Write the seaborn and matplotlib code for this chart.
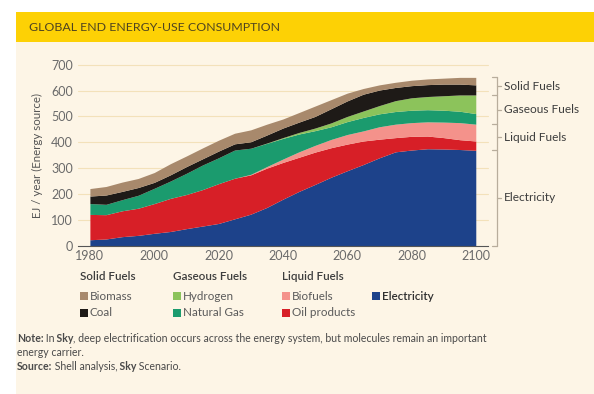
import matplotlib
matplotlib.use("Agg")
import matplotlib.pyplot as plt
from matplotlib.patches import Rectangle
import pandas as pd
import seaborn as sns

# ---- data (EJ / year) ----
years = list(range(1980, 2101, 5))
electricity = [23, 26, 35, 40, 48, 55, 66, 76, 86, 104, 122, 148, 180,
               210, 237, 265, 290, 314, 340, 363, 370, 375, 374, 372, 369]
oil_products = [98, 94, 100, 105, 115, 128, 132, 141, 154, 157, 152, 152, 142,
                132, 125, 114, 103, 91, 72, 55, 53, 49, 44, 38, 36]
biofuels = [0, 0, 0, 0, 0, 0, 0, 0, 0, 0, 2, 6, 13,
            21, 26, 32, 37, 39, 48, 52, 53, 55, 60, 66, 65]
natural_gas = [42, 40, 43, 50, 59, 67, 82, 95, 100, 109, 101, 90, 80,
               69, 57, 49, 50, 52, 50, 49, 48, 47, 46, 44, 41]
hydrogen = [0, 0, 0, 0, 0, 0, 0, 0, 0, 0, 0, 1, 3,
            6, 10, 15, 20, 25, 32, 42, 48, 51, 56, 63, 72]
coal = [29, 36, 32, 30, 23, 24, 26, 24, 26, 24, 25, 31, 37,
        40, 45, 55, 60, 65, 60, 51, 47, 46, 45, 42, 39]
biomass = [29, 33, 36, 35, 38, 43, 41, 42, 42, 41, 46, 42, 35,
           37, 40, 35, 30, 22, 20, 20, 21, 22, 23, 26, 29]

series = ["Electricity", "Oil products", "Biofuels", "Natural Gas",
          "Hydrogen", "Coal", "Biomass"]
colors = ["#1d428a", "#d71f27", "#f4928b", "#1b9b6e",
          "#8cc35b", "#1e1a17", "#a8896c"]
groups = ["Electricity", "Liquid Fuels", "Gaseous Fuels", "Solid Fuels"]
group_sizes = [1, 2, 2, 2]

df = pd.DataFrame({
    "Electricity": electricity, "Oil products": oil_products,
    "Biofuels": biofuels, "Natural Gas": natural_gas,
    "Hydrogen": hydrogen, "Coal": coal, "Biomass": biomass,
}, index=years)

sns.set_theme(style="white")
plt.rcParams["font.family"] = ["Lato", "DejaVu Sans"]

W, H = 594, 394
fig = plt.figure(figsize=(W / 100, H / 100), dpi=100, facecolor="white")

def fx(px):
    return px / W

def fy(py):
    return 1 - py / H

# panel background + title banner (behind the axes)
fig.patches.append(Rectangle((fx(16), 0), 1, fy(41.5), transform=fig.transFigure,
                             facecolor="#fdf5e6", edgecolor="none", zorder=-10))
fig.patches.append(Rectangle((fx(16), fy(41.5)), 1, (41.5 - 12.5) / H,
                             transform=fig.transFigure, facecolor="#fdd105",
                             edgecolor="none", zorder=-10))
fig.text(fx(29), fy(27.5), "GLOBAL END ENERGY-USE CONSUMPTION", fontsize=8.9,
         color="#4f4420", va="center", ha="left")

ax = fig.add_axes([fx(78), fy(245.7), (488 - 78) / W, (245.7 - 64.7) / H])
ax.set_facecolor("none")
ax.stackplot(df.index, df[series].T.values, colors=colors, lw=0, zorder=2)
ax.set_xlim(1976.3, 2103.8)
ax.set_ylim(0, 700)
ax.set_xticks(range(1980, 2101, 20))
ax.set_yticks(range(0, 701, 100))
for v in range(100, 701, 100):
    ax.axhline(v, color="#f3e1ba", lw=0.8, zorder=1, clip_on=False)
for s in ["left", "right", "top"]:
    ax.spines[s].set_visible(False)
ax.spines["bottom"].set_color("#555555")
ax.spines["bottom"].set_linewidth(0.8)
ax.tick_params(axis="both", length=0, labelsize=9, labelcolor="#6a6a6a")
ax.tick_params(axis="x", pad=3)
ax.tick_params(axis="y", pad=3.5)
ax.set_ylabel("EJ / year (Energy source)", fontsize=8.3, color="#555555",
              labelpad=6)

# right-hand brackets from the 2100 stack
last = df[series].iloc[-1].values
cum = [0]
i = 0
for n in group_sizes:
    cum.append(cum[-1] + last[i:i + n].sum())
    i += n
tr = ax.get_yaxis_transform()
bx, tl = 1.022, 1.010
bcol = "#b8ad9c"
ax.plot([bx, bx], [0, cum[-1]], transform=tr, color=bcol, lw=0.9, clip_on=False)
for v in cum:
    ax.plot([tl, bx], [v, v], transform=tr, color=bcol, lw=0.9, clip_on=False)
for g, lo, hi in zip(groups, cum[:-1], cum[1:]):
    mid = (lo + hi) / 2
    ax.plot([bx, 1.032], [mid, mid], transform=tr, color=bcol, lw=0.9,
            clip_on=False)
    ax.text(1.038, mid, g, transform=tr, fontsize=8.6, color="#3d3d3d",
            va="center", ha="left")

# legend laid out as in the reference
leg_cols = [("Solid Fuels", [("Biomass", 6), ("Coal", 5)]),
            ("Gaseous Fuels", [("Hydrogen", 4), ("Natural Gas", 3)]),
            ("Liquid Fuels", [("Biofuels", 2), ("Oil products", 1)]),
            (None, [("Electricity", 0)])]
col_x = [79.5, 172.7, 281.7, 371.7]
for cx, (head, items) in zip(col_x, leg_cols):
    if head:
        fig.text(fx(cx), fy(277), head, fontsize=8.4, color="#3d3d3d",
                 va="center", weight="semibold")
    for row, (name, idx) in enumerate(items):
        yy = 296 + 17 * row
        fig.patches.append(Rectangle((fx(cx), fy(yy + 4)), 8 / W, 8 / H,
                                     transform=fig.transFigure,
                                     facecolor=colors[idx], edgecolor="none",
                                     zorder=5))
        fig.text(fx(cx + 10), fy(yy), name, fontsize=8.4,
                 color="#2f2f2f" if name == "Electricity" else "#5a5a5a",
                 va="center", weight="semibold" if name == "Electricity" else "normal")

# note and source lines with bold runs (spaces kept at the start of each run)
renderer = fig.canvas.get_renderer()

def rich_line(x0, y0, parts):
    x = fx(x0)
    for txt, bold in parts:
        t = fig.text(x, fy(y0), txt, fontsize=7.6, color="#4a4a4a", va="center",
                     weight="bold" if bold else "normal")
        bb = t.get_window_extent(renderer)
        x += (bb.width - 0.5) / W

rich_line(17, 339, [("Note:", True), (" In", False), (" Sky", True),
                    (", deep electrification occurs across the energy system,"
                     " but molecules remain an important", False)])
rich_line(17, 352, [("energy carrier.", False)])
rich_line(17, 367, [("Source:", True), (" Shell analysis,", False),
                    (" Sky", True), (" Scenario.", False)])

fig.savefig("out.png", dpi=100, facecolor=fig.get_facecolor())
